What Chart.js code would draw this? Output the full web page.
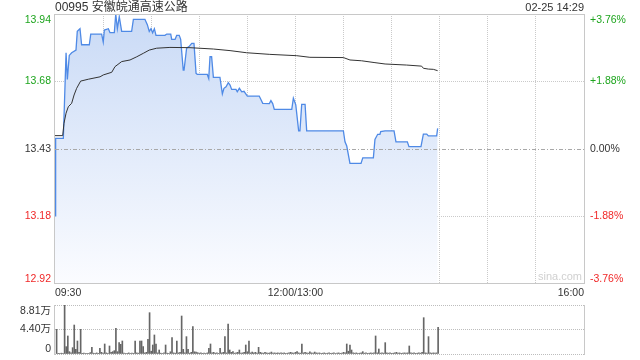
<!DOCTYPE html>
<html>
<head>
<meta charset="utf-8">
<script src="https://cdn.jsdelivr.net/npm/chart.js@4.4.1/dist/chart.umd.min.js"></script>
<style>
html, body { margin: 0; padding: 0; background: #fff; }
#wrap { position: relative; width: 640px; height: 360px; overflow: hidden;
        font-family: "Liberation Sans", "Noto Sans CJK SC", sans-serif; color: #333; }
#title { position: absolute; left: 55px; top: 0; font-size: 12px; line-height: 14px; }
#date { position: absolute; right: 56px; top: 0; font-size: 11px; line-height: 14px; }
#mark { position: absolute; right: 58px; top: 270px; font-size: 11px; color: #d0d0d0; }
canvas { position: absolute; left: 0; }
#price { top: 0; }
#vol { top: 300px; }
</style>
</head>
<body>
<div id="wrap">
  <canvas id="price" width="640" height="300"></canvas>
  <canvas id="vol" width="640" height="60"></canvas>
  <div id="title">00995 安徽皖通高速公路</div>
  <div id="date">02-25 14:29</div>
  <div id="mark">sina.com</div>
</div>
<script>
// Ticks / labels
const prevClose = 13.43;
const priceTicks = [12.925, 13.1775, 13.43, 13.6825, 13.935];
const priceTickLabels = ['12.92', '13.18', '13.43', '13.68', '13.94'];
const pctTickLabels = ['-3.76%', '-1.88%', '0.00%', '+1.88%', '+3.76%'];
const timeTicks = [0, 150, 330];
const timeTickLabels = ['09:30', '12:00/13:00', '16:00'];
const volTicks = [0, 4.405, 8.81];
const volTickLabels = ['0', '4.40万', '8.81万'];

// Price (minutes since 09:30, lunch removed)
const priceMinutes = [0, 0.4, 5.2, 6.9, 7.7, 8.9, 10.4, 13.1, 13.9, 15.6, 16.6, 21.4, 22.3, 29.1, 30.1, 30.8, 33.3, 34.3, 37, 37.9,
  38.9, 40.1, 41.6, 47.8, 48.9, 56.1, 57.6, 58.8, 59.9, 60.9, 62, 63, 68.6, 69.7, 72.2, 72.8, 74.9, 75.9, 77.5, 78.4,
  80, 80.5, 82.1, 83.6, 85.3, 86.7, 88, 88.8, 95, 95.9, 96.7, 97.7, 98.8, 102.9, 104.4, 105.4, 106.7, 108.1, 109.2, 110.2,
  112.9, 113.7, 115, 116.5, 117.9, 120, 127.4, 129.6, 133.7, 134.7, 135.8, 136.8, 147.7, 148.7, 150.2, 152, 152.8, 153.9, 156, 157,
  179.9, 180.9, 182, 184, 190.9, 192, 198.6, 199.6, 201.3, 202.7, 203.2, 205.9, 211.5, 212.7, 219.8, 220.8, 228.3, 229.8, 231.9, 232.9,
  238.1, 238.7];
const priceValues = [13.18, 13.47, 13.47, 13.79, 13.69, 13.78, 13.79, 13.80, 13.87, 13.88, 13.82, 13.82, 13.86, 13.86, 13.83, 13.875, 13.88, 13.865, 13.865, 13.935,
  13.88, 13.925, 13.87, 13.87, 13.915, 13.915, 13.895, 13.87, 13.88, 13.865, 13.88, 13.855, 13.855, 13.86, 13.86, 13.84, 13.84, 13.855, 13.855, 13.84,
  13.725, 13.725, 13.807, 13.813, 13.825, 13.825, 13.713, 13.709, 13.709, 13.694, 13.775, 13.775, 13.698, 13.698, 13.636, 13.657, 13.663, 13.678, 13.669, 13.653,
  13.653, 13.644, 13.657, 13.644, 13.646, 13.628, 13.628, 13.601, 13.60, 13.611, 13.60, 13.578, 13.578, 13.62, 13.595, 13.498, 13.498, 13.597, 13.597, 13.498,
  13.498, 13.457, 13.441, 13.376, 13.376, 13.397, 13.397, 13.466, 13.485, 13.485, 13.495, 13.498, 13.498, 13.457, 13.457, 13.439, 13.439, 13.486, 13.486, 13.479,
  13.479, 13.507];

// Average price
const avgMinutes = [0, 4.8, 5.6, 6.9, 8.3, 10.4, 11.9, 13.5, 16, 20.8, 28.1, 30.1, 35.4, 37.4, 41.6, 46.8, 51, 55.1, 58.8, 63.4,
  71.7, 84.2, 98.8, 109.2, 119.6, 134, 150.8, 159, 179.9, 184, 191.3, 199.6, 205.9, 219.4, 228.7, 229.8, 232.9, 236, 238.7];
const avgValues = [13.48, 13.48, 13.526, 13.564, 13.588, 13.601, 13.632, 13.657, 13.684, 13.691, 13.70, 13.707, 13.717, 13.738, 13.757, 13.763, 13.775, 13.788, 13.80, 13.807,
  13.81, 13.809, 13.804, 13.798, 13.79, 13.784, 13.779, 13.773, 13.772, 13.763, 13.76, 13.753, 13.748, 13.744, 13.74, 13.732, 13.729, 13.728, 13.723];

// Volume (万 shares per minute)
const volMinutes = [1, 2, 3, 4, 5, 6, 7, 8, 9, 10, 11, 12, 13, 14, 15, 16, 17, 18, 19, 20, 21, 22, 23, 24, 25, 26, 27, 28, 29, 30,
  31, 32, 33, 34, 35, 36, 37, 38, 39, 40, 41, 42, 43, 44, 45, 46, 47, 48, 49, 50, 51, 52, 53, 54, 55, 56, 57, 58, 59, 60,
  61, 62, 63, 64, 65, 66, 67, 68, 69, 70, 71, 72, 73, 74, 75, 76, 77, 78, 79, 80, 81, 82, 83, 84, 85, 86, 87, 88, 89, 90,
  91, 92, 93, 94, 95, 96, 97, 98, 99, 100, 101, 102, 103, 104, 105, 106, 107, 108, 109, 110, 111, 112, 113, 114, 115, 116, 117, 118, 119, 120,
  121, 122, 123, 124, 125, 126, 127, 128, 129, 130, 131, 132, 133, 134, 135, 136, 137, 138, 139, 140, 141, 142, 143, 144, 145, 146, 147, 148, 149, 150,
  151, 152, 153, 154, 155, 156, 157, 158, 159, 160, 161, 162, 163, 164, 165, 166, 167, 168, 169, 170, 171, 172, 173, 174, 175, 176, 177, 178, 179, 180,
  181, 182, 183, 184, 185, 186, 187, 188, 189, 190, 191, 192, 193, 194, 195, 196, 197, 198, 199, 200, 201, 202, 203, 204, 205, 206, 207, 208, 209, 210,
  211, 212, 213, 214, 215, 216, 217, 218, 219, 220, 221, 222, 223, 224, 225, 226, 227, 228, 229, 230, 231, 232, 233, 234, 235, 236, 237, 238, 239];
const volValues = [4.43, 0.12, 0.1, 0.15, 0.1, 8.81, 1.32, 3.24, 0.42, 0.2, 1.14, 5.21, 0.84, 2.34, 0.3, 4.43, 0.12, 0.15, 0.1, 0.12, 0.1, 0.25, 1.2, 0.15, 0.1, 0.2, 0.12, 1.02, 0.3, 0.15,
  1.8, 0.2, 0.1, 1.44, 0.3, 0.42, 0.6, 4.62, 0.42, 2.04, 1.74, 2.34, 0.15, 0.1, 0.12, 0.2, 0.1, 0.15, 0.12, 2.34, 0.2, 0.15, 2.34, 2.34, 1.32, 0.2, 0.3, 2.64, 7.43, 0.5,
  1.62, 3.42, 1.8, 0.2, 0.72, 0.15, 0.1, 0.2, 1.62, 0.15, 0.1, 0.4, 2.94, 0.2, 0.15, 2.34, 0.2, 0.3, 6.83, 0.84, 0.2, 3.12, 0.84, 0.15, 0.3, 4.92, 0.4, 0.36, 0.24, 0.15,
  0.2, 0.12, 0.15, 0.1, 0.2, 1.02, 1.8, 0.2, 0.3, 0.15, 0.2, 0.12, 1.02, 0.2, 0.3, 3.12, 0.2, 5.39, 0.72, 0.3, 0.42, 0.15, 0.2, 0.3, 0.72, 0.15, 0.2, 0.3, 1.62, 0.4,
  2.34, 0.2, 0.35, 0.2, 0.3, 0.15, 1.2, 0.3, 0.2, 0.15, 0.3, 0.2, 0.15, 0.2, 0.35, 0.15, 0.2, 0.15, 0.2, 0.15, 0.2, 0.15, 0.2, 0.12, 0.15, 0.2, 0.3, 0.2, 0.15, 0.3,
  0.42, 0.2, 0.15, 1.8, 0.2, 0.3, 0.2, 0.15, 0.4, 0.2, 0.15, 0.35, 0.2, 0.15, 0.2, 0.12, 0.15, 0.2, 0.1, 0.15, 0.2, 0.12, 0.15, 0.2, 0.1, 0.15, 0.2, 0.12, 0.15, 0.3,
  0.2, 1.8, 0.5, 1.62, 0.72, 0.2, 0.15, 0.2, 0.12, 0.15, 0.2, 0.42, 0.15, 0.2, 0.12, 0.15, 0.2, 0.15, 0.2, 3.24, 0.2, 0.9, 0.15, 0.2, 0.15, 2.04, 0.2, 0.15, 0.2, 0.12,
  0.15, 0.2, 0.3, 0.15, 0.2, 0.12, 0.15, 0.2, 0.15, 0.2, 1.44, 0.2, 0.15, 0.2, 0.12, 0.15, 0.2, 0.15, 0.3, 6.53, 0.2, 0.15, 3.12, 0.2, 0.15, 0.2, 0.15, 0.2, 4.79];

// Colors / fonts
const upColor = '#1ea51e';
const downColor = '#f02828';
const flatColor = '#333';
const gridColor = '#cacaca';
const labelFont = '10.5px "Liberation Sans", "Noto Sans CJK SC", sans-serif';

function tickColor(v) {
  if (Math.abs(v - prevClose) < 1e-6) return flatColor;
  return v > prevClose ? upColor : downColor;
}

function toPoints(xs, ys) {
  return xs.map((x, i) => ({ x: x, y: ys[i] }));
}

// draw y labels, first/last kept inside the box
function drawYLabels(ctx, scale, ticks, labels, x, align, colorFn) {
  ctx.textAlign = align;
  ticks.forEach((v, i) => {
    const py = scale.getPixelForValue(v);
    ctx.textBaseline = i === ticks.length - 1 ? 'top' : (i === 0 ? 'bottom' : 'middle');
    ctx.fillStyle = colorFn(v);
    ctx.fillText(labels[i], x, i === ticks.length - 1 ? py + 1 : py);
  });
}

const priceDecor = {
  id: 'priceDecor',
  afterDraw(chart) {
    const { ctx, chartArea: a, scales: { x, y } } = chart;
    ctx.save();
    // previous close line
    const yc = Math.round(y.getPixelForValue(prevClose)) + 0.5;
    ctx.strokeStyle = '#a8a8a8';
    ctx.lineWidth = 1;
    ctx.setLineDash([4, 2, 1, 2]);
    ctx.beginPath();
    ctx.moveTo(a.left, yc);
    ctx.lineTo(a.right, yc);
    ctx.stroke();
    ctx.setLineDash([]);
    // box
    ctx.strokeStyle = '#c8c8c8';
    ctx.strokeRect(a.left - 0.5, a.top + 0.5, a.right - a.left + 1, a.bottom - a.top - 1);
    // labels
    ctx.font = labelFont;
    drawYLabels(ctx, y, priceTicks, priceTickLabels, a.left - 4, 'right', tickColor);
    drawYLabels(ctx, y, priceTicks, pctTickLabels, a.right + 6, 'left', tickColor);
    ctx.fillStyle = flatColor;
    ctx.textBaseline = 'middle';
    timeTicks.forEach((t, i) => {
      ctx.textAlign = i === 0 ? 'left' : (i === timeTicks.length - 1 ? 'right' : 'center');
      ctx.fillText(timeTickLabels[i], x.getPixelForValue(t), a.bottom + 9);
    });
    ctx.restore();
  }
};

const volDecor = {
  id: 'volDecor',
  afterDraw(chart) {
    const { ctx, chartArea: a, scales: { y } } = chart;
    ctx.save();
    ctx.strokeStyle = '#c8c8c8';
    ctx.lineWidth = 1;
    ctx.beginPath();
    ctx.moveTo(a.left - 0.5, a.top);
    ctx.lineTo(a.left - 0.5, a.bottom + 1);
    ctx.moveTo(a.right + 0.5, a.top);
    ctx.lineTo(a.right + 0.5, a.bottom + 1);
    ctx.stroke();
    ctx.font = labelFont;
    drawYLabels(ctx, y, volTicks, volTickLabels, a.left - 4, 'right', () => flatColor);
    ctx.restore();
  }
};

new Chart(document.getElementById('price'), {
  type: 'line',
  data: {
    datasets: [
      {
        label: '价格',
        data: toPoints(priceMinutes, priceValues),
        order: 2,
        borderColor: '#4f8ae6',
        borderWidth: 1.3,
        pointRadius: 0,
        fill: 'start',
        backgroundColor: (c) => {
          const area = c.chart.chartArea;
          if (!area) return 'rgba(205,220,247,0.6)';
          const g = c.chart.ctx.createLinearGradient(0, area.top, 0, area.bottom);
          g.addColorStop(0, '#c9daf6');
          g.addColorStop(1, '#fbfcff');
          return g;
        }
      },
      {
        label: '均价',
        data: toPoints(avgMinutes, avgValues),
        order: 1,
        borderColor: '#333',
        borderWidth: 1,
        pointRadius: 0,
        fill: false
      }
    ]
  },
  options: {
    responsive: false,
    animation: false,
    layout: { padding: { left: 55, right: 56, top: 14, bottom: 16 } },
    plugins: { legend: { display: false }, tooltip: { enabled: false } },
    scales: {
      x: {
        type: 'linear',
        min: 0,
        max: 330,
        ticks: { display: false, stepSize: 30 },
        grid: {
          drawTicks: false,
          color: (c) => (c.index === 0 || c.index === 11) ? 'transparent' : gridColor
        },
        border: { display: false, dash: [1, 1] },
        afterFit: (s) => { s.height = 0; }
      },
      y: {
        min: priceTicks[0],
        max: priceTicks[priceTicks.length - 1],
        afterBuildTicks: (s) => { s.ticks = priceTicks.map(v => ({ value: v })); },
        ticks: { display: false },
        grid: {
          drawTicks: false,
          color: (c) => (c.index === 1 || c.index === 3) ? gridColor : 'transparent'
        },
        border: { display: false, dash: [1, 1] },
        afterFit: (s) => { s.width = 0; }
      }
    }
  },
  plugins: [priceDecor]
});

new Chart(document.getElementById('vol'), {
  type: 'bar',
  data: {
    datasets: [{
      label: '成交量',
      data: toPoints(volMinutes, volValues),
      backgroundColor: '#666',
      barThickness: 1,
      borderWidth: 0
    }]
  },
  options: {
    responsive: false,
    animation: false,
    layout: { padding: { left: 55, right: 56, top: 5, bottom: 6 } },
    plugins: { legend: { display: false }, tooltip: { enabled: false } },
    scales: {
      x: {
        type: 'linear',
        min: 0,
        max: 330,
        offset: false,
        ticks: { display: false },
        grid: { display: false },
        border: { display: false },
        afterFit: (s) => { s.height = 0; }
      },
      y: {
        min: 0,
        max: volTicks[volTicks.length - 1],
        afterBuildTicks: (s) => { s.ticks = volTicks.map(v => ({ value: v })); },
        ticks: { display: false },
        grid: { drawTicks: false, color: '#bdbdbd' },
        border: { display: false, dash: [1, 1] },
        afterFit: (s) => { s.width = 0; }
      }
    }
  },
  plugins: [volDecor]
});
</script>
</body>
</html>
